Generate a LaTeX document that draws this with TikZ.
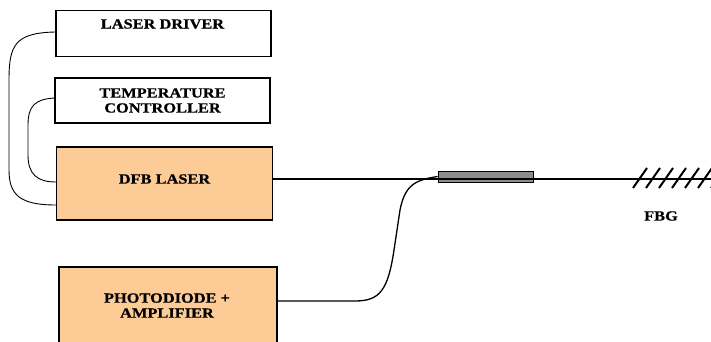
\documentclass[tikz,border=0pt]{standalone}
\usepackage{fontspec}
\setmainfont{Liberation Serif}
\newfontfamily\lblfont[FakeStretch=1.17,FakeBold=0.6]{Liberation Serif}
\definecolor{peach}{HTML}{FCCB96}
\definecolor{coupler}{HTML}{8C8C8C}
\begin{document}
\begin{tikzpicture}[x=1pt,y=-1pt,
  lbl/.style={font=\lblfont\bfseries\fontsize{14}{15}\selectfont,align=center,inner sep=0pt},
  blk/.style={draw=black,line width=1.5pt,minimum width=215pt,inner sep=0pt,lbl},
  wire/.style={draw=black,line width=0.9pt},
  fiber/.style={draw=black,line width=1.3pt}]
\useasboundingbox (0,0) rectangle (711,342);
\clip (0,0) rectangle (711,342);
% boxes
\node[blk,minimum height=46pt,anchor=north west] (ld) at (55,10) {};
\node[lbl] (ldt) at (162.5,24) {LASER DRIVER};
\node[blk,minimum height=45pt] (tc) at (162.5,100.5) {TEMPERATURE\\CONTROLLER};
\node[blk,fill=peach,minimum width=216pt,minimum height=73pt] (dfb) at (164.5,183.5) {};
\node[lbl] (dfbt) at (164.5,179) {DFB LASER};
\node[blk,fill=peach,minimum width=218pt,minimum height=110pt,anchor=north west] (pd) at (58,266) {};
\node[lbl] (pdt) at (167,305.5) {PHOTODIODE +\\AMPLIFIER};
% coupler
\node[draw=black,line width=0.9pt,fill=coupler,minimum width=95pt,minimum height=11pt,inner sep=0pt] (cp) at (485.5,176.5) {};
% coordinates
\coordinate (ldL) at (55,32);
\coordinate (tcL) at (55,98);
\coordinate (dfbA) at (56,182);
\coordinate (dfbB) at (56,205);
\coordinate (dfbR) at (273,179);
\coordinate (pdR) at (276,301);
\coordinate (end) at (711,179);
% electrical wires
\draw[wire] (ldL) .. controls (15,33) and (9,45) .. (9,80) -- (9,170) .. controls (9,195) and (20,205) .. (dfbB);
\draw[wire] (tcL) .. controls (35,99) and (28,106) .. (28,125) -- (28,155) .. controls (28,175) and (38,182) .. (dfbA);
% fibers
\draw[fiber] (dfbR) -- (end);
\draw[fiber] (pdR) -- (355,301) .. controls (380,301) and (388,290) .. (394,250) -- (400,210) .. controls (405,185) and (415,180) .. (cp.west);
% FBG
\foreach \i in {0,...,6} {
  \draw[line width=2pt] (633+\i*13,188) -- (647+\i*13,168);
}
\node[lbl] (fbg) at (661,216) {FBG};
\end{tikzpicture}
\end{document}
